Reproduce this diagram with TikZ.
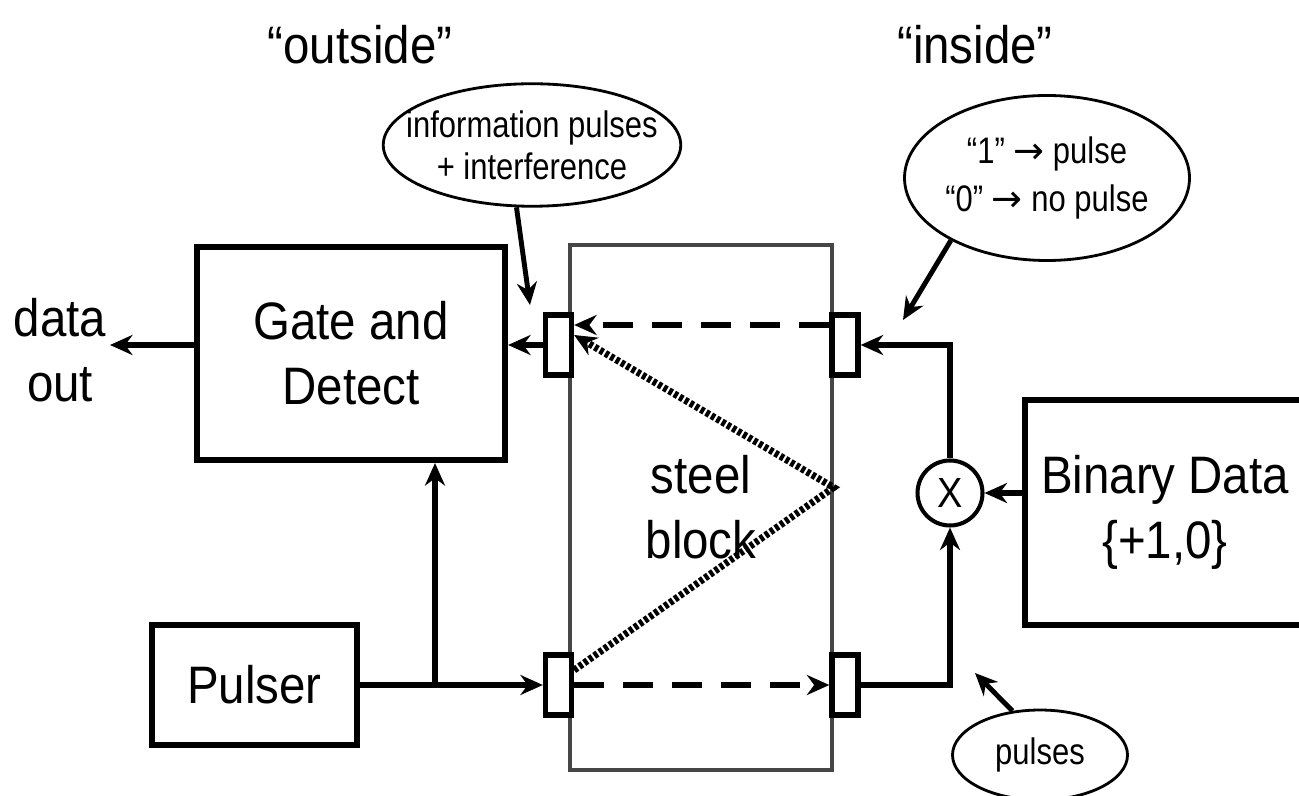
\documentclass[tikz,border=0pt]{standalone}
\usepackage{fontspec}
\setmainfont[FakeStretch=0.9]{Liberation Sans}
\newfontfamily\notefont[FakeStretch=0.84]{Liberation Sans}
\newfontfamily\symfont{DejaVu Sans}
\usetikzlibrary{arrows.meta,shapes.geometric}

\begin{document}
\begin{tikzpicture}[
  blocknode/.style={draw, line width=3.5pt, align=center, font=\fontsize{30}{37}\selectfont},
  xducer/.style={draw, line width=3pt, fill=white, minimum width=0.52cm, minimum height=1.2cm, inner sep=0pt},
  noteellipse/.style={draw, ellipse, line width=1.6pt, align=center, inner ysep=0pt},
  bigtext/.style={font=\fontsize{30}{37}\selectfont, align=center},
  sigarrow/.style={-{Stealth[length=4.5mm,width=4mm]}, line width=3.1pt},
  notearrow/.style={-{Stealth[length=4.5mm,width=4mm]}, line width=2.8pt}]
\useasboundingbox (0,0) rectangle (25.98,15.9);
% Headings
\node[bigtext] (outside) at (7.2,15.0) {“outside”};
\node[bigtext] (inside) at (19.5,15.0) {“inside”};
% Steel block and transducers
\node[draw, gray!55!black, line width=1.8pt, text=black, bigtext, minimum width=5.24cm, minimum height=10.5cm] (steel) at (14.02,5.75) {steel\\block};
\node[xducer] (txtl) at (11.17,9.0) {};
\node[xducer] (txbl) at (11.17,2.2) {};
\node[xducer] (txtr) at (16.90,9.0) {};
\node[xducer] (txbr) at (16.90,2.2) {};
\coordinate (refl) at ([yshift=4mm]steel.east);
% Blocks
\node[blocknode, minimum width=6.16cm, minimum height=4.26cm] (gate) at (7.02,8.83) {Gate and\\Detect};
\node[blocknode, minimum width=4.1cm, minimum height=2.4cm] (pulser) at (5.09,2.2) {Pulser};
\node[blocknode, minimum width=5.6cm, minimum height=4.5cm] (bindata) at (23.3,5.65) {Binary Data\\\{+1,0\}};
\node[draw, circle, line width=2.3pt, minimum size=1.3cm, inner sep=0pt, font=\fontsize{24}{26}\selectfont] (mult) at (19.0,6.04) {X};
\node[bigtext] (dataout) at (1.2,8.9) {data\\out};
\coordinate (dataend) at (2.2,9.0);
% Notes
\node[noteellipse, inner xsep=-0.7cm, minimum width=5.95cm, minimum height=2.45cm, font=\notefont\fontsize{21}{24}\selectfont] (notegate) at (10.64,13.0) {information pulses\\+ interference};
\node[noteellipse, inner xsep=-0.3cm, minimum width=5.7cm, minimum height=3.3cm, font=\notefont\fontsize{21}{27}\selectfont] (notebits) at (20.94,12.34) {“1” {\symfont→} pulse\\“0” {\symfont→} no pulse};
\node[noteellipse, minimum width=3.5cm, minimum height=1.8cm, font=\notefont\fontsize{21}{24}\selectfont] (notepulse) at (20.8,0.8) {pulses};
\coordinate (gatetip) at (10.6,9.8);
\coordinate (bitstip) at (18.06,9.5);
\coordinate (pulsetip) at (19.5,2.44);
% Signal paths
\draw[sigarrow] (pulser.east) -- (txbl.west);
\coordinate (split) at (8.7,2.2);
\draw[sigarrow] (split) -- (split |- gate.south);
\draw[sigarrow] (txtl.west) -- (txtl.west -| gate.east);
\draw[sigarrow] (gate.west |- dataend) -- (dataend);
\draw[sigarrow] (txbr.east) -| (mult.south);
\draw[sigarrow] (mult.north) |- (txtr.east);
\draw[sigarrow] (mult.east -| bindata.west) -- (mult.east);
% Through the block
\draw[sigarrow, line width=3.5pt, dash pattern=on 0.6cm off 0.38cm] ([yshift=4mm]txtr.west) -- ([yshift=4mm]txtl.east);
\draw[sigarrow, line width=3.5pt, dash pattern=on 0.6cm off 0.38cm] (txbl.east) -- (txbr.west);
\draw[notearrow, line width=4pt, dash pattern=on 2.2pt off 1.3pt] ([yshift=3mm]txbl.east) -- (refl) -- ([yshift=2mm]txtl.east);
% Note arrows
\draw[notearrow] (notegate.256) -- (gatetip);
\draw[notearrow] (notebits.213) -- (bitstip);
\draw[notearrow] (notepulse.122) -- (pulsetip);
\end{tikzpicture}
\end{document}
